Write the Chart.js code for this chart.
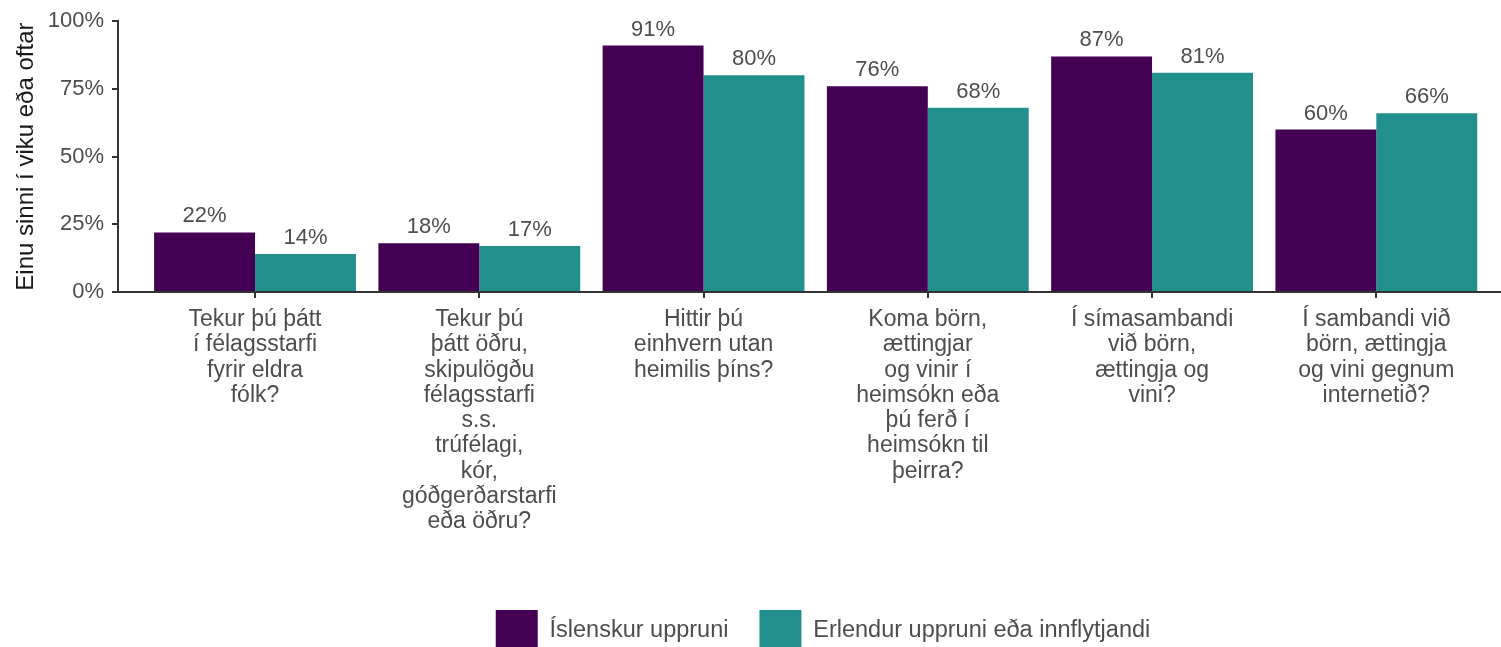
<!DOCTYPE html>
<html><head><meta charset="utf-8">
<script src="https://cdn.jsdelivr.net/npm/chart.js@4/dist/chart.umd.min.js"></script>
<style>
html,body{margin:0;padding:0;overflow:hidden;background:#fff}
#wrap{width:1646px;height:662px;position:relative}
</style>
</head><body>
<div id="wrap"><canvas id="c"></canvas></div>
<script>
const categories = [
  ["Tekur þú þátt","í félagsstarfi","fyrir eldra","fólk?"],
  ["Tekur þú","þátt öðru,","skipulögðu","félagsstarfi","s.s.","trúfélagi,","kór,","góðgerðarstarfi","eða öðru?"],
  ["Hittir þú","einhvern utan","heimilis þíns?"],
  ["Koma börn,","ættingjar","og vinir í","heimsókn eða","þú ferð í","heimsókn til","þeirra?"],
  ["Í símasambandi","við börn,","ættingja og","vini?"],
  ["Í sambandi við","börn, ættingja","og vini gegnum","internetið?"]
];
const seriesNames = ["Íslenskur uppruni", "Erlendur uppruni eða innflytjandi"];
const icelandicOrigin = [22, 18, 91, 76, 87, 60];
const foreignOrigin = [14, 17, 80, 68, 81, 66];
const yTickValues = [0, 25, 50, 75, 100];
const yAxisTitle = "Einu sinni í viku eða oftar";
const seriesColors = ["#440154", "#21908C"];

Chart.defaults.font.family = '"Liberation Sans", Arial, sans-serif';

const toPoints = arr => arr.map((v, i) => ({x: i + 1, y: v}));

const valueLabels = {
  id: 'valueLabels',
  afterDatasetsDraw(chart) {
    const ctx = chart.ctx;
    ctx.save();
    ctx.font = '22px "Liberation Sans", Arial, sans-serif';
    ctx.fillStyle = '#4d4d4d';
    ctx.textAlign = 'center';
    ctx.textBaseline = 'middle';
    chart.data.datasets.forEach((ds, di) => {
      chart.getDatasetMeta(di).data.forEach((bar, i) => {
        ctx.fillText(ds.data[i].y + '%', bar.x, bar.y - 16);
      });
    });
    ctx.restore();
  }
};

new Chart(document.getElementById('c'), {
  type: 'bar',
  data: {
    datasets: [
      {label: seriesNames[0], data: toPoints(icelandicOrigin), backgroundColor: seriesColors[0], borderWidth: 0},
      {label: seriesNames[1], data: toPoints(foreignOrigin), backgroundColor: seriesColors[1], borderWidth: 0}
    ]
  },
  options: {
    responsive: true,
    maintainAspectRatio: false,
    animation: false,
    categoryPercentage: 0.9,
    barPercentage: 1.0,
    layout: {padding: {top: 19, right: 0, left: 0, bottom: 0}},
    plugins: {
      tooltip: {enabled: false},
      legend: {
        position: 'bottom',
        align: 'center',
        labels: {
          boxWidth: 42, boxHeight: 42, padding: 31,
          color: '#4d4d4d',
          font: {size: 23.5}
        }
      }
    },
    scales: {
      x: {
        type: 'linear',
        min: 0.389, max: 7.2025,
        offset: false,
        afterBuildTicks: s => { s.ticks = categories.map((c, i) => ({value: i + 1})); },
        afterFit: s => { s.height = 287; },
        ticks: {
          autoSkip: false, maxRotation: 0, minRotation: 0,
          padding: 9,
          color: '#4d4d4d',
          font: {size: 23, lineHeight: 1.1},
          callback: v => categories[Math.round(v) - 1]
        },
        grid: {display: true, offset: false, drawOnChartArea: false, drawTicks: true, tickLength: 6, color: '#333', lineWidth: 2},
        border: {display: true, color: '#333', width: 2}
      },
      y: {
        min: 0, max: 100,
        afterBuildTicks: s => { s.ticks = yTickValues.map(v => ({value: v})); },
        afterFit: s => { s.width = 118; },
        ticks: {
          padding: 8,
          color: '#4d4d4d',
          font: {size: 22},
          callback: v => v + '%'
        },
        grid: {display: true, drawOnChartArea: false, drawTicks: true, tickLength: 6, color: '#333', lineWidth: 2},
        border: {display: true, color: '#333', width: 2},
        title: {display: true, text: yAxisTitle, color: '#1a1a1a', font: {size: 24, lineHeight: 1.2}, padding: {top: 12, bottom: 0}}
      }
    }
  },
  plugins: [valueLabels]
});
</script>
</body></html>
